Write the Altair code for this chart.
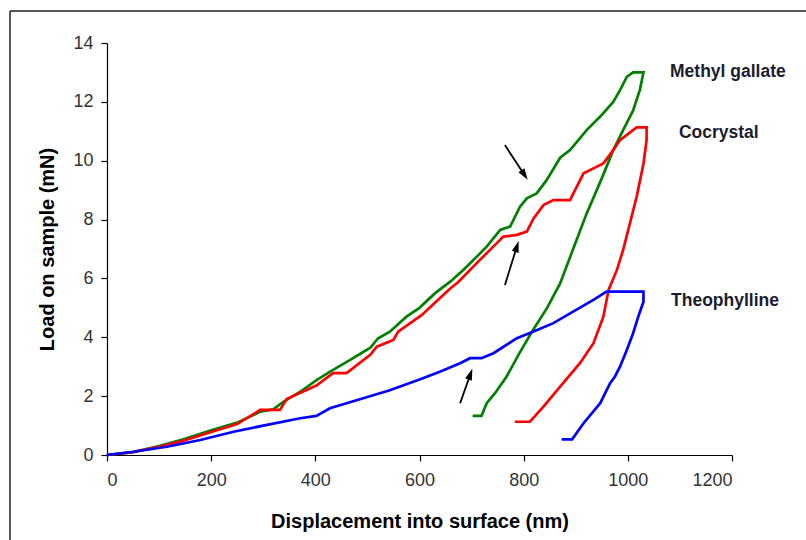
import altair as alt
import pandas as pd
import numpy as np

# ---- data ----
series_names = ["Methyl gallate", "Cocrystal", "Theophylline"]
series_colors = ["#008000", "#ff0000", "#0000ff"]

mg_x = [0, 50, 100, 150, 200, 250, 294, 319, 338, 371, 403, 430, 467, 492, 506, 520, 543, 575, 600, 630, 659,
        684, 710, 729, 755, 774, 793, 806, 825, 844, 870, 889, 921, 947, 972, 985, 998, 1010, 1030,
        1030, 1023, 1010, 991, 972, 950, 921, 895, 870, 845, 818, 790, 767, 745, 729, 719, 702]
mg_y = [0, 0.1, 0.3, 0.55, 0.84, 1.1, 1.47, 1.55, 1.8, 2.15, 2.55, 2.85, 3.23, 3.5, 3.65, 3.96, 4.19, 4.7, 5.0, 5.5, 5.89,
        6.29, 6.74, 7.08, 7.65, 7.76, 8.44, 8.72, 8.89, 9.34, 10.1, 10.36, 11.04, 11.5, 12.0, 12.4, 12.85, 13.0, 13.0,
        13.0, 12.4, 11.7, 11.04, 10.36, 9.4, 8.21, 7.0, 5.83, 5.0, 4.25, 3.4, 2.66, 2.1, 1.76, 1.33, 1.33]

co_x = [0, 50, 100, 150, 200, 250, 294, 332, 345, 402, 434, 460, 506, 518, 550, 559, 604, 659, 674, 716, 748,
        761, 787, 806, 819, 838, 857, 889, 902, 915, 934, 953, 972, 985, 1010, 1017, 1036,
        1036, 1030, 1017, 1004, 991, 979, 963, 953, 934, 908, 870, 838, 812, 783]
co_y = [0, 0.1, 0.28, 0.5, 0.78, 1.05, 1.53, 1.53, 1.9, 2.36, 2.78, 2.78, 3.41, 3.68, 3.91, 4.19, 4.75, 5.66, 5.87, 6.63, 7.19,
        7.42, 7.48, 7.59, 8.04, 8.49, 8.66, 8.66, 9.12, 9.57, 9.74, 9.91, 10.36, 10.7, 11.04, 11.13, 11.13,
        10.7, 9.9, 8.78, 7.87, 6.97, 6.29, 5.61, 4.70, 3.80, 3.12, 2.32, 1.64, 1.13, 1.13]

th_x = [0, 51, 115, 179, 243, 300, 371, 402, 428, 500, 543, 604, 639, 678, 697, 719, 742, 787, 818, 857,
        895, 934, 959, 1030,
        1030, 1020, 1010, 998, 985, 975, 966, 947, 915, 893, 873]
th_y = [0, 0.11, 0.28, 0.51, 0.79, 1.0, 1.25, 1.33, 1.59, 1.97, 2.2, 2.59, 2.83, 3.12, 3.29, 3.29, 3.46, 3.97, 4.19, 4.48,
        4.87, 5.27, 5.55, 5.55,
        5.21, 4.70, 4.13, 3.57, 3.0, 2.66, 2.44, 1.76, 1.08, 0.53, 0.53]

label_x = [1081, 1098, 1083]
label_y = [13.0, 10.94, 5.23]

arrow_x1 = [764, 764, 678]
arrow_y1 = [10.53, 5.78, 1.76]
arrow_x2 = [807, 790, 701]
arrow_y2 = [9.37, 7.25, 2.91]

x_ticks = [0, 200, 400, 600, 800, 1000, 1200]
y_ticks = [0, 2, 4, 6, 8, 10, 12, 14]

# ---- geometry ----
W, H = 625, 412
PAD_L, PAD_T = 107, 43
px_x = W / 1200.0
px_y = H / 14.0

rows = []
for name, xs_, ys_ in zip(series_names, [mg_x, co_x, th_x], [mg_y, co_y, th_y]):
    for i, (a, b) in enumerate(zip(xs_, ys_)):
        rows.append({"series": name, "x": a, "y": b, "i": i})
df = pd.DataFrame(rows)

xs = alt.Scale(domain=[0, 1200], nice=False)
ys = alt.Scale(domain=[0, 14], nice=False)

lines = alt.Chart(df).mark_line(strokeWidth=2.7, interpolate="linear").encode(
    x=alt.X("x:Q", scale=xs, axis=alt.Axis(
        values=x_ticks, format="d", title="Displacement into surface (nm)", grid=False,
        tickSize=6, labelPadding=10, titleY=66, titleBaseline="middle")),
    y=alt.Y("y:Q", scale=ys, axis=alt.Axis(
        values=y_ticks, format="d", title="Load on sample (mN)", grid=False,
        tickSize=6, labelPadding=8, titleX=-60, titleY=H / 2, titleBaseline="middle",
        titleAngle=-90)),
    color=alt.Color("series:N", scale=alt.Scale(domain=series_names, range=series_colors), legend=None),
    order="i:Q",
    detail="series:N",
)

lab_df = pd.DataFrame({"name": series_names, "x": label_x, "y": label_y})
labels = alt.Chart(lab_df).mark_text(
    align="left", baseline="middle", font="Liberation Sans", fontWeight="bold",
    fontSize=17.5, color="#1c1c30", clip=False
).encode(x=alt.X("x:Q", scale=xs), y=alt.Y("y:Q", scale=ys), text="name:N")

# arrows
ang = []
hx, hy = [], []
for x1, y1, x2, y2 in zip(arrow_x1, arrow_y1, arrow_x2, arrow_y2):
    dx = (x2 - x1) * px_x
    dy = -(y2 - y1) * px_y  # screen coordinates, y down
    L = np.hypot(dx, dy)
    theta = np.degrees(np.arctan2(dx, -dy)) % 360
    ang.append(float(theta))
    back = 5.0
    hx.append(x2 - (dx / L * back) / px_x)
    hy.append(y2 + (dy / L * back) / px_y)
arr_df = pd.DataFrame({"x1": arrow_x1, "y1": arrow_y1, "x2": arrow_x2, "y2": arrow_y2,
                       "hx": hx, "hy": hy, "ang": ang})

shafts = alt.Chart(arr_df).mark_rule(strokeWidth=1.8, color="black").encode(
    x=alt.X("x1:Q", scale=xs), y=alt.Y("y1:Q", scale=ys), x2="hx:Q", y2="hy:Q")
heads = alt.Chart(arr_df).mark_point(
    shape="M0,-1L0.62,1L-0.62,1Z", filled=True, color="black", opacity=1, size=130
).encode(x=alt.X("hx:Q", scale=xs), y=alt.Y("hy:Q", scale=ys), angle=alt.Angle("ang:Q", scale=None))

# outer frame (top and left border of the figure)
one = pd.DataFrame({"a": [0]})
frame_top = alt.Chart(one).mark_rule(color="#222222", strokeWidth=1.5).encode(
    x=alt.value(10 - PAD_L), x2=alt.value(806 - PAD_L + 5), y=alt.value(11 - PAD_T))
frame_left = alt.Chart(one).mark_rule(color="#222222", strokeWidth=1.5).encode(
    x=alt.value(10 - PAD_L), y=alt.value(11 - PAD_T), y2=alt.value(545 - PAD_T))

chart = alt.layer(lines, labels, shafts, heads, frame_top, frame_left).properties(
    width=W, height=H,
    autosize="none",
    padding={"left": PAD_L, "top": PAD_T, "right": 806 - PAD_L - W, "bottom": 540 - PAD_T - H},
    background="white",
).configure_view(stroke=None).configure_axis(
    domainColor="black", tickColor="black", domainWidth=1.2, tickWidth=1.2,
    labelFont="Liberation Sans", labelFontSize=18, labelColor="#333333",
    titleFont="Liberation Sans", titleFontSize=20, titleFontWeight="bold", titleColor="black",
)

chart.save("out.html", embed_options={"renderer": "svg", "actions": False})
